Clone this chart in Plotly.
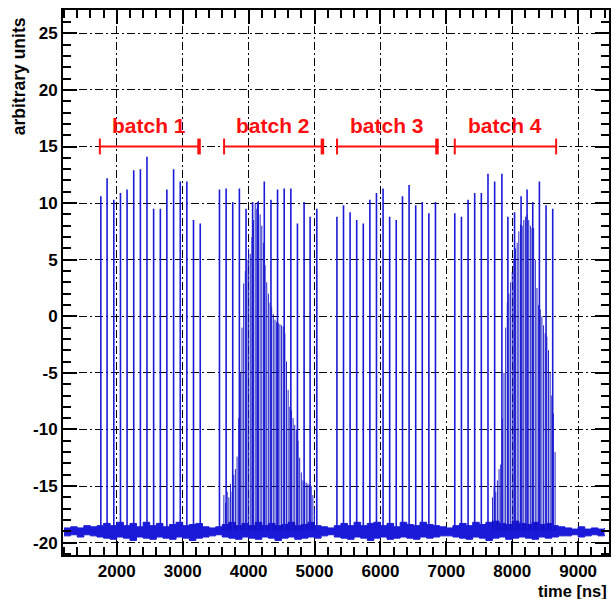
import plotly.graph_objects as go

# ---------------- data ----------------
# tall pulses (ns, arbitrary units)
pulse_t = [1758, 1853, 1955, 2056, 2156, 2257, 2358, 2458, 2559, 2661, 2760, 2862, 2963, 3063, 3164, 3266,
           3558, 3659, 3759, 3860, 3961, 4061, 4137, 4238, 4339, 4439, 4540, 4641, 4741, 4842, 4933, 5035,
           5340, 5440, 5540, 5640, 5740, 5840, 5940, 6040, 6140, 6240, 6335, 6435, 6535, 6635, 6735, 6835,
           7128, 7229, 7330, 7430, 7531, 7632, 7733, 7843, 7934, 8035, 8134, 8225, 8311, 8412, 8513, 8614]
pulse_h = [10.6, 12.2, 10.3, 10.9, 11.2, 12.9, 13.0, 14.1, 9.5, 9.5, 11.2, 13.0, 11.9, 11.9, 8.5, 8.2,
           11.2, 11.3, 10.1, 11.3, 9.5, 10.1, 10.1, 11.9, 10.3, 11.2, 11.3, 11.3, 8.2, 10.1, 8.8, 9.5,
           8.8, 9.8, 9.2, 8.5, 8.2, 10.3, 10.9, 11.3, 8.8, 8.5, 10.6, 11.6, 9.8, 10.1, 9.1, 10.1,
           9.1, 8.8, 10.3, 10.9, 10.9, 12.6, 11.9, 12.6, 8.8, 9.2, 10.6, 11.2, 10.1, 11.9, 9.8, 9.5]

# dense bunch structure in batch 2
dense2_t = [3625, 3650, 3675, 3700, 3725, 3750, 3775, 3800, 3825, 3850, 3875, 3900, 3925, 3950, 3975, 4000,
            4025, 4050, 4075, 4100, 4125, 4150, 4175, 4200, 4225, 4250, 4275, 4300, 4325, 4350, 4375, 4400,
            4425, 4450, 4475, 4500, 4525, 4550, 4575, 4600, 4625, 4650, 4675, 4700, 4725, 4750, 4775, 4800,
            4825, 4850, 4875, 4900, 4925, 4950, 4975, 5000]
dense2_h = [-15.8, -16.5, -15.5, -16.0, -14.8, -15.5, -14.0, -13.5, -12.4, -9.0, -5.0, -1.0, 2.9, 4.0, 5.0, 6.0,
            5.5, 7.0, 8.5, 10.0, 9.5, 10.2, 9.0, 8.0, 6.5, 4.5, 3.0, 2.0, 1.2, 0.8, 0.2, -0.3,
            -0.5, -0.6, -0.7, -0.8, -0.9, -1.5, -4.0, -6.5, -8.0, -8.3, -9.0, -9.6, -10.0, -11.0, -12.5, -13.8,
            -14.5, -14.6, -14.7, -14.8, -14.9, -15.0, -15.8, -17.0]

# dense bunch structure in batch 4
dense4_t = [7700, 7725, 7750, 7775, 7800, 7825, 7850, 7875, 7900, 7925, 7950, 7975, 8000, 8025, 8050, 8075,
            8100, 8125, 8150, 8175, 8200, 8225, 8250, 8275, 8300, 8325, 8350, 8375, 8400, 8425, 8450, 8475,
            8500, 8525, 8550, 8575, 8600, 8625, 8650]
dense4_h = [-16.0, -15.0, -15.5, -14.5, -13.5, -13.1, -9.0, -5.0, -1.0, 1.2, 2.0, 3.0, 3.9, 5.0, 6.0, 6.5,
            7.5, 8.1, 8.0, 8.5, 8.8, 9.0, 8.5, 8.0, 7.8, 7.8, 5.0, 2.5, 1.0, 0.6, 0.0, -0.8,
            -1.5, -1.8, -3.0, -5.0, -7.0, -8.6, -12.0]

# baseline noise band (upper / lower edge, every 100 ns from 1200 to 9400)
base_t = list(range(1200, 9500, 100))
base_hi = [-18.7, -18.6, -18.7, -18.5, -18.6, -18.5, -18.3, -18.5, -18.2, -18.5, -18.3, -18.6, -18.2, -18.5,
           -18.3, -18.6, -18.4, -18.2, -18.5, -18.4, -18.3, -18.6, -18.7, -18.6, -18.4, -18.2, -18.5, -18.3,
           -18.5, -18.2, -18.5, -18.3, -18.5, -18.4, -18.2, -18.5, -18.4, -18.2, -18.5, -18.6, -18.7, -18.5,
           -18.3, -18.5, -18.2, -18.5, -18.3, -18.2, -18.5, -18.3, -18.6, -18.2, -18.4, -18.5, -18.2, -18.4,
           -18.5, -18.6, -18.7, -18.5, -18.3, -18.5, -18.2, -18.4, -18.2, -18.1, -18.3, -18.4, -18.1, -18.3,
           -18.4, -18.2, -18.4, -18.3, -18.5, -18.6, -18.7, -18.8, -18.6, -18.8, -18.7, -18.8, -18.7]
base_lo = [-19.4, -19.3, -19.5, -19.3, -19.4, -19.5, -19.6, -19.7, -19.5, -19.6, -19.8, -19.5, -19.6, -19.7,
           -19.5, -19.6, -19.7, -19.5, -19.6, -19.8, -19.6, -19.5, -19.4, -19.3, -19.5, -19.6, -19.7, -19.5,
           -19.6, -19.7, -19.5, -19.6, -19.8, -19.6, -19.5, -19.7, -19.6, -19.5, -19.6, -19.4, -19.3, -19.5,
           -19.6, -19.7, -19.5, -19.6, -19.8, -19.6, -19.5, -19.7, -19.6, -19.5, -19.6, -19.7, -19.5, -19.6,
           -19.5, -19.4, -19.4, -19.5, -19.6, -19.7, -19.5, -19.6, -19.8, -19.6, -19.5, -19.7, -19.6, -19.5,
           -19.6, -19.7, -19.5, -19.6, -19.5, -19.4, -19.4, -19.3, -19.5, -19.4, -19.3, -19.4, -19.3]
pedestal = -18.9

# batch markers
batch_names = ["batch 1", "batch 2", "batch 3", "batch 4"]
batch_start = [1743, 3628, 5342, 7128]
batch_end = [3248, 5120, 6858, 8666]
batch_level = 15

x_tickvals = [2000, 3000, 4000, 5000, 6000, 7000, 8000, 9000]
x_ticktext = ["2000", "3000", "4000", "5000", "6000", "7000", "8000", "9000"]
y_tickvals = [-20, -15, -10, -5, 0, 5, 10, 15, 20, 25]
y_ticktext = ["-20", "-15", "-10", "-5", "0", "5", "10", "15", "20", "25"]

# ---------------- styles ----------------
BLUE = "#1a1ad8"
DENSEBLUE = "#1010c0"
RED = "#ff0f0f"
end_tick_w = [3.5, 3.5, 3.5, 2.0]
FONT = "Liberation Sans, Arial, Helvetica, sans-serif"


def spikes(ts, hs, base):
    xs, ys = [], []
    for t, h in zip(ts, hs):
        xs += [t, t, None]
        ys += [base, h, None]
    return xs, ys


fig = go.Figure()

# baseline band
fig.add_trace(go.Scatter(x=base_t, y=base_lo, mode="lines", line=dict(color=BLUE, width=1, shape="hv"),
                         hoverinfo="skip"))
fig.add_trace(go.Scatter(x=base_t, y=base_hi, mode="lines", line=dict(color=BLUE, width=1, shape="hv"),
                         fill="tonexty", fillcolor=BLUE, hoverinfo="skip"))

# dense structures
for dt, dh in [(dense2_t, dense2_h), (dense4_t, dense4_h)]:
    xs, ys = spikes(dt, dh, pedestal)
    fig.add_trace(go.Scatter(x=xs, y=ys, mode="lines", line=dict(color=DENSEBLUE, width=0.9),
                             hoverinfo="skip"))

# tall pulses
xs, ys = spikes(pulse_t, pulse_h, pedestal)
fig.add_trace(go.Scatter(x=xs, y=ys, mode="lines", line=dict(color=BLUE, width=1.6), hoverinfo="skip"))

# batch markers
for i, (name, s, e) in enumerate(zip(batch_names, batch_start, batch_end)):
    fig.add_trace(go.Scatter(x=[s, e], y=[batch_level, batch_level], mode="lines",
                             line=dict(color=RED, width=2), hoverinfo="skip"))
    fig.add_trace(go.Scatter(x=[s, s], y=[batch_level - 0.7, batch_level + 0.7], mode="lines",
                             line=dict(color=RED, width=2), hoverinfo="skip"))
    fig.add_trace(go.Scatter(x=[e, e], y=[batch_level - 0.7, batch_level + 0.7], mode="lines",
                             line=dict(color=RED, width=end_tick_w[i]), hoverinfo="skip"))
    fig.add_annotation(x=(s + e) / 2, y=batch_level + 1.9, xref="x", yref="y", text=name,
                       showarrow=False, xanchor="center", yanchor="middle",
                       font=dict(family=FONT, size=21, color=RED, weight="bold"))

axis_common = dict(
    ticks="inside", ticklen=14, tickwidth=1.5, tickcolor="black",
    showline=True, linecolor="black", linewidth=2, mirror="ticks",
    showgrid=True, gridcolor="black", gridwidth=1.3, griddash="8px,3px,2px,3px",
    zeroline=False,
    tickfont=dict(family=FONT, size=17, color="black", weight="bold"),
)

fig.update_xaxes(range=[1184, 9468], tickmode="array", tickvals=x_tickvals, ticktext=x_ticktext,
                 minor=dict(tickmode="linear", tick0=0, dtick=200, ticks="inside", ticklen=8,
                            tickwidth=1.5, tickcolor="black", showgrid=False),
                 **axis_common)
fig.update_yaxes(range=[-21.09, 27.06], tickmode="array", tickvals=y_tickvals, ticktext=y_ticktext,
                 minor=dict(tickmode="linear", tick0=0, dtick=1, ticks="inside", ticklen=8,
                            tickwidth=1.5, tickcolor="black", showgrid=False),
                 **axis_common)

fig.add_annotation(text="arbitrary units", xref="paper", yref="paper", x=-0.080, y=0.991,
                   xanchor="center", yanchor="top", textangle=-90, showarrow=False,
                   font=dict(family=FONT, size=17.5, color="black", weight="bold"))
fig.add_annotation(text="time [ns]", xref="paper", yref="paper", x=1.0, y=-0.0655,
                   xanchor="right", yanchor="middle", showarrow=False,
                   font=dict(family=FONT, size=16.5, color="black", weight="bold"))

fig.update_layout(width=614, height=599, margin=dict(l=63, r=3, t=10, b=44),
                  plot_bgcolor="white", paper_bgcolor="white", showlegend=False)

fig.write_html("out.html")
